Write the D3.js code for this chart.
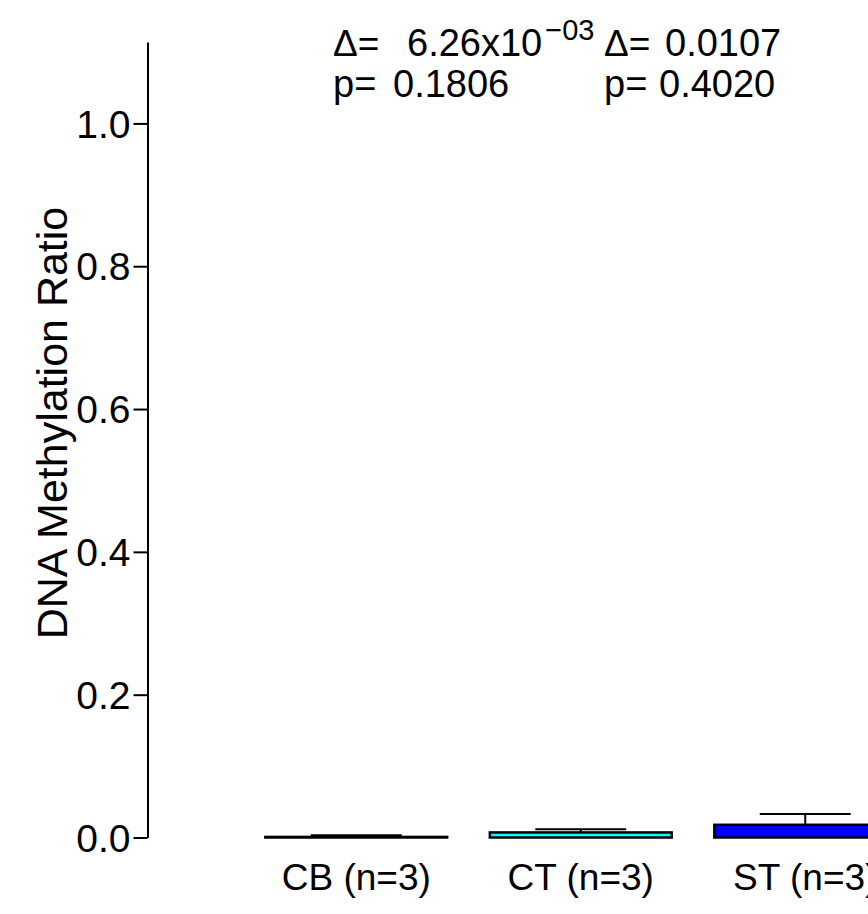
<!DOCTYPE html>
<html><head><meta charset="utf-8">
<script src="https://cdn.jsdelivr.net/npm/d3@7/dist/d3.min.js"></script>
<style>
body{margin:0;background:#fff;}
svg text{font-family:"Liberation Sans",Arial,sans-serif;fill:#000;}
</style></head>
<body><svg id="chart" width="868" height="914"></svg>
<script>
const categories = ["CB (n=3)", "CT (n=3)", "ST (n=3)"];
const means = [0.0008, 0.0071, 0.0178];
const errors = [0.0022, 0.0043, 0.0150];
const colors = ["#ffffff", "#00ffff", "#0000ff"];
const yTicks = [0, 0.2, 0.4, 0.6, 0.8, 1.0];
const deltaLabels = ["6.26x10", "0.0107"];
const deltaExponents = ["\u221203", ""];
const pLabels = ["0.1806", "0.4020"];

const svg = d3.select("#chart");
const y = d3.scaleLinear().domain([0, 1.114]).range([837.5, 42]);
const x = d3.scaleBand().domain(categories).range([244, 917.5]).paddingInner(0.19).paddingOuter(0.095);

// y axis
const yAxis = d3.axisLeft(y).tickValues(yTicks).tickFormat(d3.format(".1f")).tickSize(14).tickPadding(3).tickSizeOuter(0);
const gy = svg.append("g").attr("transform","translate(147.5,0)").call(yAxis);
gy.select(".domain").attr("stroke","#000").attr("stroke-width",2);
gy.selectAll(".tick line").attr("stroke","#000").attr("stroke-width",2);
gy.selectAll(".tick text").attr("font-size",39).attr("dy","0.35em").attr("font-family","Liberation Sans, Arial, sans-serif");

// y label
svg.append("text").attr("transform","translate(67,423) rotate(-90)")
  .attr("text-anchor","middle").attr("font-size",43).text("DNA Methylation Ratio");

// bars
const data = categories.map((c,i)=>({c, m:means[i], e:errors[i], col:colors[i]}));
const bw = x.bandwidth();
const eg = svg.append("g");
eg.selectAll("line.v").data(data).join("line").attr("class","v")
  .attr("x1",d=>x(d.c)+bw/2).attr("x2",d=>x(d.c)+bw/2)
  .attr("y1",d=>y(d.m)).attr("y2",d=>y(d.m+d.e))
  .attr("stroke","#000").attr("stroke-width",2);
eg.selectAll("line.c").data(data).join("line").attr("class","c")
  .attr("x1",d=>x(d.c)+bw/4).attr("x2",d=>x(d.c)+3*bw/4)
  .attr("y1",d=>y(d.m+d.e)).attr("y2",d=>y(d.m+d.e))
  .attr("stroke","#000").attr("stroke-width",2);
svg.append("g").selectAll("rect").data(data).join("rect")
  .attr("x",d=>x(d.c)).attr("width",bw)
  .attr("y",d=>y(d.m)).attr("height",d=>y(0)-y(d.m))
  .attr("fill",d=>d.col).attr("stroke","#000").attr("stroke-width",2.5);

// x labels
svg.append("g").selectAll("text").data(data).join("text")
  .attr("x",d=>x(d.c)+bw/2).attr("y",890).attr("text-anchor","middle")
  .attr("font-size",37).text(d=>d.c);

// annotations
const annX = [333, 604];
const numOff = [74, 61];
const pOff = [60, 55];
deltaLabels.forEach((lab,i)=>{
  svg.append("text").attr("x",annX[i]).attr("y",56).attr("font-size",37).text("\u0394=");
  const t = svg.append("text").attr("x",annX[i]+numOff[i]).attr("y",56).attr("font-size",38);
  t.append("tspan").text(lab);
  if (deltaExponents[i]) t.append("tspan").attr("dx",3).attr("dy",-16).attr("font-size",29).text(deltaExponents[i]);
  svg.append("text").attr("x",annX[i]).attr("y",97).attr("font-size",38).text("p=");
  svg.append("text").attr("x",annX[i]+pOff[i]).attr("y",97).attr("font-size",38).text(pLabels[i]);
});
</script></body></html>
